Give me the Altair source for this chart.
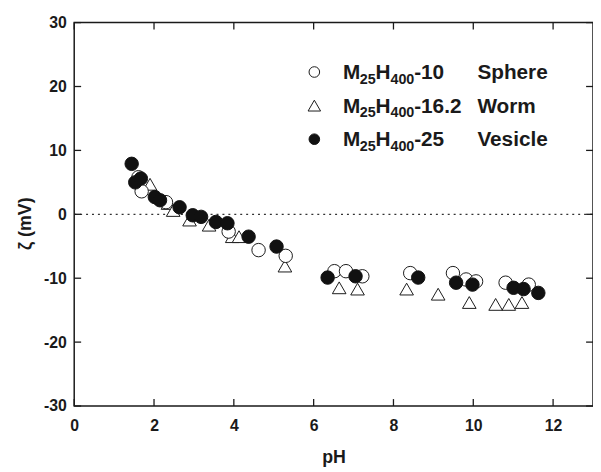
import altair as alt
import pandas as pd

# ---- data ----
sphere_ph = [1.61, 1.69, 2.30, 3.87, 4.62, 5.30, 6.52, 6.81, 7.22, 8.42, 9.49, 9.82, 10.07, 10.81, 11.39]
sphere_zeta = [5.8, 3.6, 1.9, -2.7, -5.6, -6.5, -8.9, -8.9, -9.7, -9.2, -9.2, -10.2, -10.5, -10.7, -11.0]

worm_ph = [1.90, 2.35, 2.48, 2.89, 3.38, 3.96, 4.13, 5.28, 6.64, 7.10, 8.33, 9.12, 9.90, 10.56, 10.89, 11.22]
worm_zeta = [4.7, 1.7, 0.6, -0.9, -1.7, -3.5, -3.5, -8.1, -11.5, -11.7, -11.7, -12.5, -13.8, -14.1, -14.1, -13.8]

vesicle_ph = [1.44, 1.53, 1.67, 2.02, 2.15, 2.64, 2.97, 3.18, 3.55, 3.84, 4.37, 5.07, 6.35, 7.05, 8.62, 9.57, 9.98, 11.01, 11.26, 11.63]
vesicle_zeta = [7.9, 5.0, 5.6, 2.7, 2.2, 1.1, -0.15, -0.4, -1.2, -1.4, -3.5, -5.05, -9.9, -9.7, -9.9, -10.7, -11.0, -11.5, -11.7, -12.3]

x_ticks = [0, 2, 4, 6, 8, 10, 12]
y_ticks = [-30, -20, -10, 0, 10, 20, 30]

legend_suffix = ["-10", "-16.2", "-25"]
legend_morph = ["Sphere", "Worm", "Vesicle"]

# ---- styling ----
FONT = "Liberation Sans"
INK = "#1a1a1a"
W, H = 525, 388
TICK = 7

xs = alt.Scale(domain=[0, 13], nice=False, zero=False)
ys = alt.Scale(domain=[-30, 30], nice=False, zero=False)

x_axis = alt.Axis(values=x_ticks, ticks=False, domain=False, grid=False,
                  labelFont=FONT, labelFontWeight="bold", labelFontSize=16,
                  labelPadding=12, labelColor=INK, labelFlush=False, labelOverlap=False,
                  labelExpr="'' + datum.value",
                  title="pH", titleFont=FONT, titleFontSize=18, titleFontWeight="bold",
                  titleColor=INK, titleY=57, titleBaseline="alphabetic")
y_axis = alt.Axis(values=y_ticks, ticks=False, domain=False, grid=False,
                  labelFont=FONT, labelFontWeight="bold", labelFontSize=16,
                  labelPadding=8, labelColor=INK, labelFlush=False, labelOverlap=False,
                  labelExpr="'' + datum.value",
                  title="ζ (mV)", titleFont=FONT, titleFontSize=18, titleFontWeight="bold",
                  titleColor=INK, titleAngle=270, titleX=-44, titleY=203,
                  titleBaseline="alphabetic", titleAlign="center")


def X():
    return alt.X("pH:Q", scale=xs, axis=x_axis)


def Y():
    return alt.Y("zeta:Q", scale=ys, axis=y_axis)


sphere = pd.DataFrame({"pH": sphere_ph, "zeta": sphere_zeta})
worm = pd.DataFrame({"pH": worm_ph, "zeta": worm_zeta})
vesicle = pd.DataFrame({"pH": vesicle_ph, "zeta": vesicle_zeta})
xt = pd.DataFrame({"pH": x_ticks})
yt = pd.DataFrame({"zeta": y_ticks})
zero = pd.DataFrame({"zeta": [0]})

layers = []

# zero dotted line
layers.append(alt.Chart(zero).mark_rule(color="#333", strokeWidth=1.3, strokeDash=[2, 4]).encode(
    y=Y(), x=alt.value(0), x2=alt.value(W)))

# inward ticks on all four sides
layers.append(alt.Chart(yt).mark_rule(color=INK, strokeWidth=1.3).encode(
    y=Y(), x=alt.value(0), x2=alt.value(TICK)))
layers.append(alt.Chart(yt).mark_rule(color=INK, strokeWidth=1.3).encode(
    y=Y(), x=alt.value(W - TICK), x2=alt.value(W)))
layers.append(alt.Chart(xt).mark_rule(color=INK, strokeWidth=1.3).encode(
    x=X(), y=alt.value(H - TICK), y2=alt.value(H)))
layers.append(alt.Chart(xt).mark_rule(color=INK, strokeWidth=1.3).encode(
    x=X(), y=alt.value(0), y2=alt.value(TICK)))

# data
layers.append(alt.Chart(worm).mark_point(shape="triangle-up", filled=True, fill="white",
                                         stroke=INK, strokeWidth=1, size=190, opacity=1).encode(x=X(), y=Y()))
layers.append(alt.Chart(sphere).mark_point(shape="circle", filled=True, fill="white",
                                           stroke=INK, strokeWidth=1, size=185, opacity=1).encode(x=X(), y=Y()))
layers.append(alt.Chart(vesicle).mark_point(shape="circle", filled=True, fill="#111",
                                            stroke="#111", strokeWidth=1, size=185, opacity=1).encode(x=X(), y=Y()))

# manual legend (pixel positions inside plot area)
sym_x = 243
sym_y = [50, 84, 118]
base_y = [57, 91, 125]
sym_styles = [
    dict(shape="circle", fill="white", stroke=INK, size=115),
    dict(shape="triangle-up", fill="white", stroke=INK, size=160),
    dict(shape="circle", fill="#111", stroke="#111", size=115),
]
for i in range(3):
    st = sym_styles[i]
    layers.append(alt.Chart(zero).mark_point(shape=st["shape"], filled=True, fill=st["fill"],
                                             stroke=st["stroke"], strokeWidth=1, size=st["size"],
                                             opacity=1).encode(x=alt.value(sym_x), y=alt.value(sym_y[i])))
    pieces = [("M", 272, 0, 21), ("25", 289, 5, 14.5), ("H", 305, 0, 21), ("400", 320, 5, 14.5),
              (legend_suffix[i], 344, 0, 21), (legend_morph[i], 408, 0, 21)]
    for txt, px, dy, fs in pieces:
        layers.append(alt.Chart(zero).mark_text(text=txt, font=FONT, fontWeight="bold", fontSize=fs,
                                                color=INK, align="left", baseline="alphabetic").encode(
            x=alt.value(px), y=alt.value(base_y[i] + dy)))

chart = alt.layer(*layers).properties(
    width=W, height=H,
    autosize=alt.AutoSizeParams(type="none"),
    padding={"left": 67, "top": 12, "right": 0, "bottom": 64},
    background="white",
).configure_view(stroke=INK, strokeWidth=1.5)

chart.save("out.html", embed_options={"renderer": "svg", "actions": False})
